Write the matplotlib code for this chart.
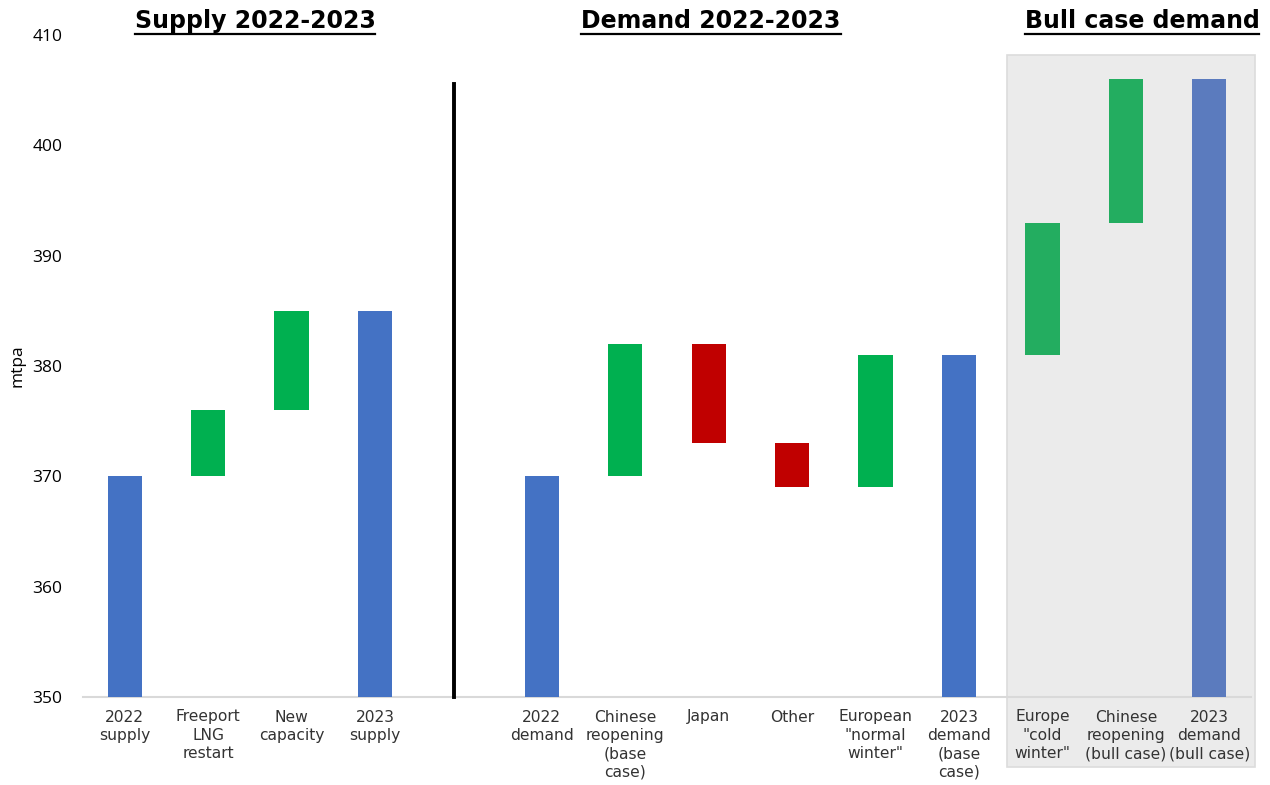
import matplotlib
matplotlib.use('Agg')
import matplotlib.pyplot as plt
from matplotlib.patches import Rectangle
from matplotlib.lines import Line2D
import numpy as np

# categories (slot 4 left empty for the separator)
labels = ['2022\nsupply', 'Freeport\nLNG\nrestart', 'New\ncapacity', '2023\nsupply',
          '2022\ndemand', 'Chinese\nreopening\n(base\ncase)', 'Japan', 'Other',
          'European\n"normal\nwinter"', '2023\ndemand\n(base\ncase)',
          'Europe\n"cold\nwinter"', 'Chinese\nreopening\n(bull case)', '2023\ndemand\n(bull case)']
slots = [0, 1, 2, 3, 5, 6, 7, 8, 9, 10, 11, 12, 13]
bottoms = [350, 370, 376, 350, 350, 370, 373, 369, 369, 350, 381, 393, 350]
tops = [370, 376, 385, 385, 370, 382, 382, 373, 381, 381, 393, 406, 406]
kinds = ['total', 'up', 'up', 'total', 'total', 'up', 'down', 'down', 'up', 'total',
         'bull_up', 'bull_up', 'bull_total']

colors = {'total': '#4472C4', 'up': '#00B050', 'down': '#C00000',
          'bull_up': '#23AD60', 'bull_total': '#5B7BBE'}

sections = ['Supply 2022-2023', 'Demand 2022-2023', 'Bull case demand']

fig = plt.figure(figsize=(12.7, 7.85), dpi=100)
ax = fig.add_axes([83/1270, 1-697/785, 1168/1270, 662/785])

heights = np.array(tops) - np.array(bottoms)
ax.bar(slots, heights, bottom=bottoms, width=0.41,
       color=[colors[k] for k in kinds], zorder=3)

# shaded bull case box
ax.add_patch(Rectangle((10.57, 343.7), 2.98, 64.5, facecolor='#EBEBEB',
                       edgecolor='#DCDCDC', lw=1.2, clip_on=False, zorder=0))

# separator
ax.plot([3.95, 3.95], [350, 405.6], color='black', lw=2.8, zorder=4, clip_on=False)

ax.set_xlim(-0.5, 13.5)
ax.set_ylim(350, 410)
ax.set_yticks(np.arange(350, 411, 10))
ax.set_xticks(slots)
ax.set_xticklabels(labels, fontsize=11.2, color='#333333', linespacing=1.28)
for t in ax.get_yticklabels():
    t.set_fontfamily('Open Sans')
    t.set_fontsize(12.5)
ax.tick_params(axis='both', length=0)
ax.tick_params(axis='x', pad=9)
ax.tick_params(axis='y', pad=15)
for s in ['top', 'right', 'left']:
    ax.spines[s].set_visible(False)
ax.spines['bottom'].set_color('#D9D9D9')
ax.spines['bottom'].set_linewidth(1.5)
ax.set_facecolor('none')
ax.set_ylabel('mtpa', fontsize=12.5, family='Open Sans', labelpad=5)

# section titles with underline
title_x = [255, 711, 1142]
renderer = fig.canvas.get_renderer()
for name, px in zip(sections, title_x):
    t = fig.text(px/1270, 1-21/785, name, ha='center', va='center',
                 fontsize=17, fontweight='bold', color='black')
    bb = t.get_window_extent(renderer=renderer)
    y_line = (bb.y0 - 1) / 785
    fig.add_artist(Line2D([bb.x0/1270, bb.x1/1270], [y_line, y_line],
                          color='black', lw=1.6))

fig.savefig('out.png', dpi=100)
